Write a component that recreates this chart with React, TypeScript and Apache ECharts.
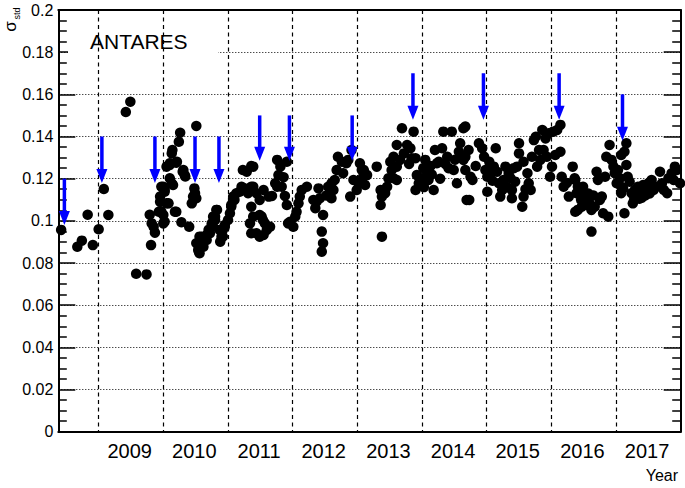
import React, { useEffect, useRef } from 'react';
import * as echarts from 'echarts';

const X_MIN = 2008.376;
const X_MAX = 2018;
const yearBoundaries = [2009, 2010, 2011, 2012, 2013, 2014, 2015, 2016, 2017];
const yearLabels = ['2009', '2010', '2011', '2012', '2013', '2014', '2015', '2016', '2017'];
const LABEL_SHIFT = 0.48;

const sigmaPoints: [number, number][] = [
  [2008.42,0.0957],[2008.67,0.0877],[2008.74,0.0906],[2008.83,0.1029],[2008.91,0.0885],[2009.00,0.0960],[2009.08,0.1151],[2009.15,0.1028],[2009.42,0.1516],[2009.49,0.1565],[2009.58,0.0749],[2009.74,0.0746],
  [2009.79,0.1029],[2009.81,0.0885],[2009.82,0.0988],[2009.85,0.0972],[2009.87,0.0944],[2009.93,0.1043],[2009.95,0.1090],[2009.95,0.1115],[2009.97,0.1162],[2009.97,0.1043],[2010.00,0.1028],[2010.00,0.0988],[2010.00,0.1162],[2010.02,0.1146],[2010.02,0.1138],[2010.02,0.0996],[2010.05,0.1257],[2010.05,0.1083],[2010.08,0.1083],[2010.10,0.1202],[2010.10,0.1265],[2010.10,0.1273],[2010.13,0.1178],[2010.13,0.1320],[2010.14,0.1336],[2010.15,0.1170],[2010.18,0.1043],[2010.20,0.1276],[2010.20,0.1043],[2010.21,0.1280],[2010.24,0.1375],[2010.26,0.1418],[2010.28,0.0993],[2010.30,0.1233],[2010.31,0.1241],[2010.33,0.1217],[2010.34,0.1210],[2010.40,0.0972],[2010.44,0.1083],[2010.46,0.1115],[2010.48,0.1154],[2010.49,0.1131],[2010.51,0.1107],[2010.51,0.1450],
  [2010.51,0.0894],[2010.54,0.0862],[2010.55,0.0854],[2010.56,0.0846],[2010.56,0.0925],[2010.59,0.0925],[2010.62,0.0901],[2010.62,0.0877],[2010.67,0.0933],[2010.67,0.0909],[2010.70,0.0957],[2010.72,0.0941],[2010.75,0.0980],[2010.75,0.0988],[2010.77,0.1020],[2010.77,0.0972],[2010.80,0.1004],[2010.80,0.1020],[2010.82,0.1052],[2010.83,0.1052],[2010.87,0.0957],[2010.88,0.0901],[2010.90,0.0925],[2010.92,0.0957],[2010.92,0.0925],[2010.95,0.0980],[2010.95,0.0972],[2011.00,0.1004],[2011.03,0.1036],[2011.05,0.1067],[2011.05,0.1075],[2011.08,0.1115],[2011.10,0.1099],[2011.13,0.1131],[2011.18,0.1138],[2011.21,0.1162],[2011.23,0.1241],[2011.26,0.1154],[2011.26,0.1146],[2011.29,0.1233],[2011.31,0.1131],[2011.34,0.1154],[2011.34,0.0988],[2011.36,0.1067],[2011.36,0.0941],[2011.36,0.1260],[2011.36,0.1162],[2011.39,0.1020],[2011.39,0.1162],[2011.39,0.1257],[2011.44,0.1131],[2011.44,0.0941],[2011.49,0.1099],[2011.49,0.1028],[2011.49,0.0925],[2011.54,0.1004],
  [2011.52,0.1020],[2011.55,0.1146],[2011.55,0.0933],[2011.57,0.0988],[2011.60,0.0957],[2011.63,0.1115],[2011.65,0.0972],[2011.68,0.1118],[2011.73,0.1178],[2011.76,0.1289],[2011.76,0.1162],[2011.78,0.1217],[2011.81,0.1257],[2011.83,0.1162],[2011.86,0.1207],[2011.88,0.1118],[2011.91,0.1280],[2011.91,0.1075],[2011.93,0.0988],[2011.96,0.0996],[2012.01,0.0972],[2012.04,0.1020],[2012.06,0.1043],[2012.09,0.1083],[2012.11,0.1115],[2012.14,0.1146],[2012.22,0.1162],[2012.32,0.1099],[2012.35,0.1060],[2012.37,0.1091],[2012.40,0.1154],[2012.42,0.1107],[2012.45,0.0949],[2012.45,0.0854],[2012.47,0.1028],[2012.47,0.0894],[2012.52,0.1120],[2012.55,0.1162],[2012.58,0.1130],[2012.60,0.1178],[2012.60,0.1107],[2012.63,0.1146],[2012.65,0.1194],[2012.68,0.1241],[2012.70,0.1304],[2012.76,0.1280],[2012.78,0.1226],[2012.83,0.1273],[2012.86,0.1289],[2012.89,0.1115],[2012.91,0.1336],[2012.94,0.1194],[2012.99,0.1146],[2013.02,0.1178],[2013.04,0.1273],[2013.07,0.1241],[2013.09,0.1209],
  [2013.10,0.1241],[2013.12,0.1170],[2013.15,0.1217],[2013.30,0.1257],[2013.36,0.1146],[2013.36,0.1075],[2013.38,0.1115],[2013.38,0.0925],[2013.43,0.1131],[2013.46,0.1162],[2013.48,0.1202],[2013.51,0.1280],[2013.53,0.1240],[2013.56,0.1202],[2013.56,0.1304],[2013.61,0.1194],[2013.61,0.1360],[2013.61,0.1257],[2013.66,0.1289],[2013.69,0.1439],[2013.72,0.1320],[2013.77,0.1360],[2013.80,0.1270],[2013.82,0.1344],[2013.84,0.1297],[2013.87,0.1423],[2013.90,0.1297],[2013.90,0.1146],[2013.92,0.1217],[2013.95,0.1178],[2014.00,0.1202],[2014.02,0.1250],[2014.03,0.1160],[2014.05,0.1289],[2014.08,0.1217],[2014.10,0.1194],[2014.13,0.1260],[2014.15,0.1220],[2014.18,0.1146],[2014.20,0.1336],[2014.23,0.1273],[2014.26,0.1280],[2014.28,0.1200],[2014.31,0.1344],[2014.33,0.1423],[2014.36,0.1270],[2014.39,0.1304],[2014.41,0.1250],[2014.46,0.1423],[2014.49,0.1241],[2014.51,0.1290],[2014.54,0.1178],[2014.57,0.1328],[2014.59,0.1368],[2014.62,0.1300],[2014.64,0.1289],[2014.64,0.1439],[2014.67,0.1241],[2014.69,0.1099],
  [2014.67,0.1447],[2014.67,0.1304],[2014.72,0.1336],[2014.73,0.1099],[2014.75,0.1209],[2014.78,0.1194],[2014.83,0.1260],[2014.88,0.1368],[2014.93,0.1344],[2014.96,0.1304],[2014.98,0.1241],[2015.01,0.1209],[2015.01,0.1138],[2015.04,0.1280],[2015.06,0.1226],[2015.09,0.1190],[2015.11,0.1257],[2015.14,0.1344],[2015.16,0.1233],[2015.19,0.1178],[2015.21,0.1115],[2015.24,0.1146],[2015.26,0.1194],[2015.29,0.1257],[2015.31,0.1160],[2015.34,0.1226],[2015.37,0.1202],[2015.39,0.1146],[2015.39,0.1107],[2015.42,0.1250],[2015.44,0.1186],[2015.47,0.1257],[2015.50,0.1368],[2015.50,0.1320],[2015.55,0.1067],[2015.57,0.1280],[2015.57,0.1115],[2015.60,0.1150],[2015.63,0.1226],[2015.65,0.1178],[2015.68,0.1146],[2015.70,0.1304],[2015.73,0.1383],[2015.76,0.1399],[2015.78,0.1257],[2015.81,0.1336],[2015.83,0.1289],[2015.86,0.1431],[2015.88,0.1336],[2015.91,0.1391],[2015.93,0.1304],[2015.96,0.1415],[2015.98,0.1209],[2016.01,0.1257],[2016.03,0.1423],[2016.06,0.1312],[2016.09,0.1431],[2016.14,0.1455],[2016.14,0.1328],[2016.16,0.1209],[2016.19,0.1162],[2016.24,0.1180],[2016.27,0.1115],[2016.33,0.1257],
  [2016.36,0.1202],[2016.37,0.1194],[2016.37,0.1043],[2016.39,0.1131],[2016.41,0.1162],[2016.41,0.1052],[2016.44,0.1146],[2016.46,0.1100],[2016.47,0.1067],[2016.49,0.1162],[2016.52,0.1115],[2016.54,0.1075],[2016.57,0.1130],[2016.59,0.1083],[2016.62,0.1052],[2016.62,0.0949],[2016.65,0.1120],[2016.67,0.1067],[2016.70,0.1233],[2016.72,0.1194],[2016.75,0.1099],[2016.78,0.1115],[2016.80,0.1036],[2016.83,0.1209],[2016.85,0.1304],[2016.88,0.1020],[2016.90,0.1360],[2016.93,0.1289],[2016.96,0.1257],[2016.98,0.1226],[2017.01,0.1178],[2017.03,0.1241],[2017.06,0.1202],[2017.08,0.1312],[2017.08,0.1162],[2017.08,0.1131],[2017.11,0.1154],[2017.13,0.1328],[2017.13,0.1036],[2017.16,0.1368],[2017.16,0.1265],[2017.18,0.1209],[2017.21,0.1186],[2017.24,0.1131],[2017.26,0.1083],[2017.28,0.1100],[2017.29,0.1146],[2017.31,0.1115],[2017.34,0.1162],[2017.36,0.1105],[2017.37,0.1146],[2017.40,0.1110],[2017.42,0.1170],[2017.45,0.1120],[2017.47,0.1146],[2017.50,0.1178],[2017.52,0.1130],[2017.55,0.1194],[2017.58,0.1146],[2017.63,0.1162],[2017.68,0.1233],[2017.71,0.1178],[2017.74,0.1146],[2017.79,0.1131],[2017.81,0.1202],[2017.86,0.1226],[2017.89,0.1194],[2017.91,0.1257],[2017.94,0.1241],[2017.99,0.1178]
];

const arrowYears = [2008.47, 2009.05, 2009.87, 2010.49, 2010.86, 2011.49, 2011.95, 2012.92, 2013.86, 2014.95, 2016.12, 2017.10];
const arrowTops = [0.120, 0.140, 0.140, 0.140, 0.140, 0.150, 0.150, 0.150, 0.170, 0.170, 0.170, 0.160];
const arrowTips = [0.098, 0.118, 0.118, 0.118, 0.118, 0.1285, 0.1285, 0.1285, 0.148, 0.148, 0.148, 0.138];

const FONT = 'Liberation Sans, Arial, Helvetica, sans-serif';

export default function App() {
  const ref = useRef<HTMLDivElement>(null);
  useEffect(() => {
    if (!ref.current) return;
    const chart = echarts.init(ref.current, undefined, { renderer: 'svg' });
    const labelValues = yearBoundaries.map((y) => y + LABEL_SHIFT);
    const arrowData = arrowYears.map((y, i) => [y, arrowTops[i], arrowTips[i]]);
    const frameLine = { show: true, onZero: false, lineStyle: { color: '#000', width: 2 } };
    const option: any = {
      animation: false,
      grid: { left: 58.3, right: 4.3, top: 10, bottom: 56.3, containLabel: false },
      xAxis: [
        {
          type: 'value', min: X_MIN, max: X_MAX, position: 'bottom', z: 1.5,
          axisLine: frameLine,
          axisTick: { show: false, customValues: yearBoundaries },
          axisLabel: {
            customValues: labelValues,
            formatter: (v: number) => yearLabels[Math.round(v - LABEL_SHIFT - yearBoundaries[0])] ?? '',
            fontSize: 20, color: '#000', fontFamily: FONT, margin: 9,
          },
          splitLine: { show: true, lineStyle: { color: '#000', width: 1.2, type: [4, 3.5] } },
        },
        {
          type: 'value', min: X_MIN, max: X_MAX, position: 'top', z: 1.5,
          axisLine: frameLine, axisTick: { show: false }, axisLabel: { show: false }, splitLine: { show: false },
        },
      ],
      yAxis: [
        {
          type: 'value', min: 0, max: 0.2, interval: 0.02, position: 'left', z: 0,
          axisLine: frameLine,
          axisTick: { show: true, inside: true, length: 17, lineStyle: { color: '#000', width: 1.5 } },
          minorTick: { show: true, splitNumber: 4, length: 8.5, lineStyle: { color: '#000', width: 1.5 } },
          axisLabel: { fontSize: 16, color: '#000', margin: 5, fontFamily: FONT },
          splitLine: { show: true, lineStyle: { color: '#000', width: 1, type: [1, 2] } },
        },
        {
          type: 'value', min: 0, max: 0.2, interval: 0.02, position: 'right', z: 0,
          axisLine: frameLine,
          axisTick: { show: true, inside: true, length: 17, lineStyle: { color: '#000', width: 1.5 } },
          minorTick: { show: true, splitNumber: 4, length: 8.5, lineStyle: { color: '#000', width: 1.5 } },
          axisLabel: { show: false },
          splitLine: { show: false },
        },
      ],
      series: [
        {
          type: 'scatter', xAxisIndex: 0, yAxisIndex: 0, z: 2,
          symbol: 'circle', symbolSize: 10.5,
          itemStyle: { color: '#000', opacity: 1 },
          emphasis: { disabled: true },
          data: sigmaPoints,
        },
        {
          type: 'custom', xAxisIndex: 0, yAxisIndex: 0, z: 3,
          encode: { x: 0, y: [1, 2] },
          data: arrowData,
          renderItem: (params: any, api: any) => {
            const p0 = api.coord([api.value(0), api.value(1)]);
            const p1 = api.coord([api.value(0), api.value(2)]);
            const headH = 14;
            const headW = 5.5;
            return {
              type: 'group',
              children: [
                { type: 'line', shape: { x1: p0[0], y1: p0[1], x2: p1[0], y2: p1[1] - headH + 1 }, style: { stroke: '#0000ff', lineWidth: 3.5 } },
                { type: 'polygon', shape: { points: [[p1[0] - headW, p1[1] - headH], [p1[0] + headW, p1[1] - headH], [p1[0], p1[1]]] }, style: { fill: '#0000ff' } },
              ],
            };
          },
        },
      ],
      graphic: [
        { type: 'rect', z: 1, shape: { x: 68, y: 22, width: 150, height: 40 }, style: { fill: '#fff' } },
        { type: 'text', z: 4, x: 90, y: 41, style: { text: 'ANTARES', fontSize: 21, fontFamily: FONT, fill: '#000', verticalAlign: 'middle' } },
        { type: 'text', z: 4, x: 10.5, y: 26.5, rotation: Math.PI / 2, style: { text: 'σ', fontSize: 17, fontFamily: FONT, fill: '#000', align: 'center', verticalAlign: 'middle' } },
        { type: 'text', z: 4, x: 16.5, y: 13.5, rotation: Math.PI / 2, style: { text: 'std', fontSize: 9, fontFamily: FONT, fill: '#000', align: 'center', verticalAlign: 'middle' } },
        { type: 'text', z: 4, x: 678, y: 475.5, style: { text: 'Year', fontSize: 16, fontFamily: FONT, fill: '#000', align: 'right', verticalAlign: 'middle' } },
      ],
    };
    chart.setOption(option);
    return () => chart.dispose();
  }, []);
  return <div ref={ref} style={{ position: 'absolute', left: 0, top: 0, width: 685, height: 488 }} />;
}
